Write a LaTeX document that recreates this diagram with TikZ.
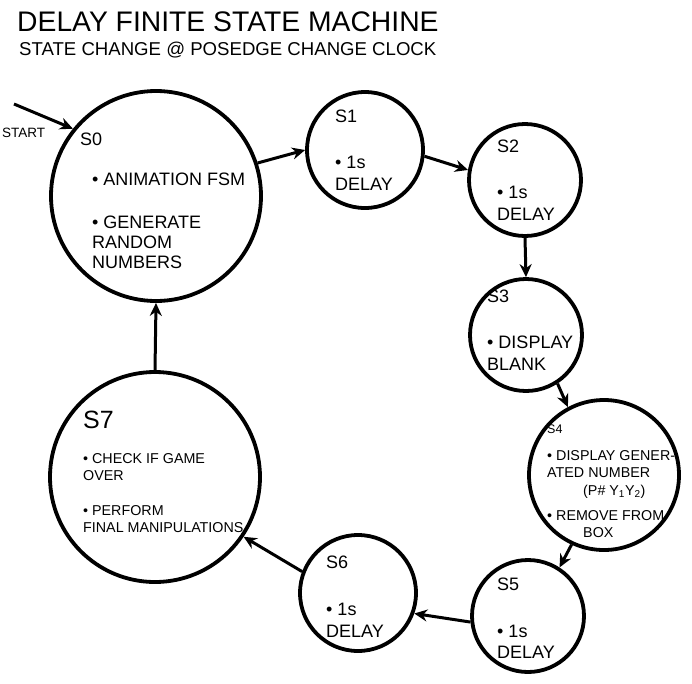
\documentclass[tikz,border=0pt]{standalone}
\usepackage{fontspec}
\setmainfont{Liberation Sans}
\usetikzlibrary{arrows.meta, positioning}

\begin{document}
\begin{tikzpicture}[
        x=1pt, y=-1pt,
        fsmstate/.style={draw, circle, line width=3.8pt, inner sep=0pt},
        txt/.style={anchor=base west, inner sep=0pt, font=\fontsize{18}{20}\selectfont},
        smalltxt/.style={txt, font=\fontsize{14.3}{16}\selectfont},
        arrow/.style={-{Stealth[length=13pt, width=12pt]}, line width=3pt}
        ]
        \useasboundingbox (0,0) rectangle (692,683);

        % title
        \node (title) [txt, font=\fontsize{28.3}{30}\selectfont] at (17,31) {DELAY FINITE STATE MACHINE};
        \node (subtitle) [txt, font=\fontsize{18.6}{20}\selectfont] at (19,55) {STATE CHANGE @ POSEDGE CHANGE CLOCK};

        % states
        \node (s0) [fsmstate, minimum size=210pt] at (156,196) {};
        \node (s1) [fsmstate, minimum size=116pt] at (365,150) {};
        \node (s2) [fsmstate, minimum size=112pt] at (525,180) {};
        \node (s3) [fsmstate, minimum size=112pt] at (526,335) {};
        \node (s4) [fsmstate, minimum size=150pt] at (604,475) {};
        \node (s5) [fsmstate, minimum size=112pt] at (528,616) {};
        \node (s6) [fsmstate, minimum size=116pt] at (358,593) {};
        \node (s7) [fsmstate, minimum size=210pt] at (155,477) {};

        % texts
        \node (s0name) [txt] at (80,145) {S0};
        \node (s0a) [txt] at (92,185) {• ANIMATION FSM};
        \node (s0b) [txt] at (92,228) {• GENERATE};
        \node (s0c) [txt] at (92,248) {RANDOM};
        \node (s0d) [txt] at (92,268) {NUMBERS};

        \node (s1name) [txt] at (335,122) {S1};
        \node (s1a) [txt] at (335,168) {• 1s};
        \node (s1b) [txt] at (335,190) {DELAY};

        \node (s2name) [txt] at (497,152) {S2};
        \node (s2a) [txt] at (497,198) {• 1s};
        \node (s2b) [txt] at (497,220) {DELAY};

        \node (s3name) [txt] at (487,302) {S3};
        \node (s3a) [txt] at (487,348) {• DISPLAY};
        \node (s3b) [txt] at (487,370) {BLANK};

        \node (s4name) [smalltxt, font=\fontsize{12.5}{14}\selectfont] at (547,433) {S4};
        \node (s4a) [smalltxt] at (547,460) {• DISPLAY GENER-};
        \node (s4b) [smalltxt] at (547,477) {ATED NUMBER};
        \node (s4c) [smalltxt] at (583,495) {(P\# Y\textsubscript{1}Y\textsubscript{2})};
        \node (s4d) [smalltxt] at (547,520) {• REMOVE FROM};
        \node (s4e) [smalltxt] at (583,537) {BOX};

        \node (s5name) [txt] at (497,590) {S5};
        \node (s5a) [txt] at (497,637) {• 1s};
        \node (s5b) [txt] at (497,658) {DELAY};

        \node (s6name) [txt] at (326,568) {S6};
        \node (s6a) [txt] at (326,615) {• 1s};
        \node (s6b) [txt] at (326,637) {DELAY};

        \node (s7name) [txt, font=\fontsize{25}{27}\selectfont] at (83,428) {S7};
        \node (s7a) [smalltxt] at (83,463) {• CHECK IF GAME};
        \node (s7b) [smalltxt] at (83,480) {OVER};
        \node (s7c) [smalltxt] at (83,515) {• PERFORM};
        \node (s7d) [smalltxt] at (83,532) {FINAL MANIPULATIONS};

        % start
        \coordinate (startpt) at (14,104);
        \node (startlbl) [smalltxt, font=\fontsize{13.5}{15}\selectfont] at (2,137) {START};

        % transitions
        \draw[arrow] (startpt) -- (s0.141);
        \draw[arrow] (s0.18) -- (s1.180);
        \draw[arrow] (s1.-6) -- (s2.170);
        \draw[arrow] (s2.270) -- (s3.90);
        \draw[arrow] (s3.-57) -- (s4.118);
        \draw[arrow] (s4.-115) -- (s5.57);
        \draw[arrow] (s5.186) -- (s6.-20);
        \draw[arrow] (s6.159) -- (s7.-34);
        \draw[arrow] (s7.90) -- (s0.270);
    \end{tikzpicture}
\end{document}
